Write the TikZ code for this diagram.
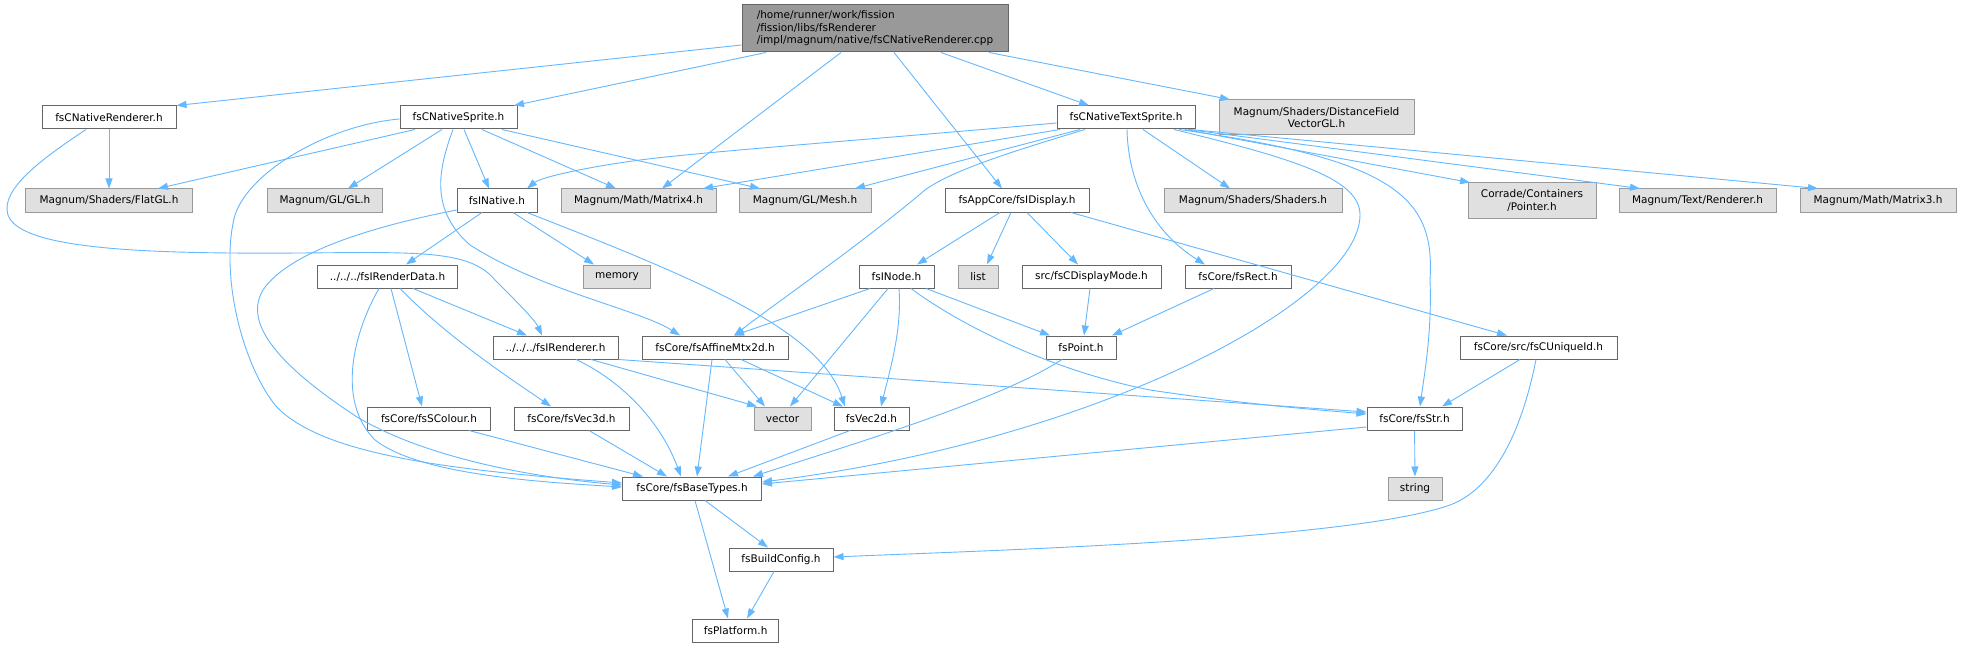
\documentclass[tikz,border=0pt]{standalone}
\usepackage{fontspec}
\setmainfont{DejaVu Sans}
\usetikzlibrary{arrows.meta}
\definecolor{edgeblue}{HTML}{63B8FF}
\definecolor{nodeborder}{HTML}{666666}
\definecolor{extfill}{HTML}{E0E0E0}
\definecolor{extborder}{HTML}{999999}
\definecolor{rootfill}{HTML}{999999}
\tikzset{
  base/.style={rectangle, inner sep=0pt, minimum height=23pt, line width=1pt,
    font=\fontsize{10.5pt}{12.5pt}\selectfont},
  fnode/.style={base, draw=nodeborder, fill=white},
  ext/.style={base, draw=extborder, fill=extfill},
  rootnode/.style={base, draw=nodeborder, fill=rootfill, minimum height=47pt, align=left},
  edge/.style={draw=edgeblue, line width=0.9pt, -{Triangle[length=10pt,width=7pt]}}
}
\begin{document}
\begin{tikzpicture}[x=1pt,y=-1pt]
\useasboundingbox[fill=white] (0,0) rectangle (1961,647);
% rank 0
\node[rootnode, minimum width=266pt] (root) at (875,28.5) {/home/runner/work/fission\\/fission/libs/fsRenderer\\/impl/magnum/native/fsCNativeRenderer.cpp};
% rank 1
\node[fnode, minimum width=134pt] (rend) at (109,117.5) {fsCNativeRenderer.h};
\node[fnode, minimum width=117pt] (sprite) at (458.5,117.5) {fsCNativeSprite.h};
\node[fnode, minimum width=138pt] (text) at (1126,117.5) {fsCNativeTextSprite.h};
\node[ext, minimum width=195pt, minimum height=35pt, align=center] (dfv) at (1316.5,117.5) {Magnum/Shaders/DistanceField\\VectorGL.h};
% rank 2
\node[ext, minimum width=167pt] (flat) at (109,200.5) {Magnum/Shaders/FlatGL.h};
\node[ext, minimum width=115pt] (gl) at (325,200.5) {Magnum/GL/GL.h};
\node[fnode, minimum width=80pt] (native) at (497,200.5) {fsINative.h};
\node[ext, minimum width=155pt] (mat4) at (638.5,200.5) {Magnum/Math/Matrix4.h};
\node[ext, minimum width=132pt] (mesh) at (805,200.5) {Magnum/GL/Mesh.h};
\node[fnode, minimum width=144pt] (disp) at (1017,200.5) {fsAppCore/fsIDisplay.h};
\node[ext, minimum width=178pt] (shaders) at (1253,200.5) {Magnum/Shaders/Shaders.h};
\node[ext, minimum width=128pt, minimum height=35pt, align=center] (pointer) at (1532,200.5) {Corrade/Containers\\/Pointer.h};
\node[ext, minimum width=157pt] (renderer) at (1697.5,200.5) {Magnum/Text/Renderer.h};
\node[ext, minimum width=156pt] (mat3) at (1878,200.5) {Magnum/Math/Matrix3.h};
% rank 3
\node[fnode, minimum width=140pt] (rdata) at (387.5,276.5) {../../../fsIRenderData.h};
\node[ext, minimum width=67pt] (memory) at (617,276.5) {memory};
\node[fnode, minimum width=75pt] (inode) at (896.5,276.5) {fsINode.h};
\node[ext, minimum width=40pt] (list) at (978,276.5) {list};
\node[fnode, minimum width=139pt] (dmode) at (1091.5,276.5) {src/fsCDisplayMode.h};
\node[fnode, minimum width=106pt] (rect) at (1238,276.5) {fsCore/fsRect.h};
% rank 4
\node[fnode, minimum width=125pt] (irend) at (555.5,347.5) {../../../fsIRenderer.h};
\node[fnode, minimum width=146pt] (affine) at (715,347.5) {fsCore/fsAffineMtx2d.h};
\node[fnode, minimum width=70pt] (point) at (1081,347.5) {fsPoint.h};
\node[fnode, minimum width=157pt] (uid) at (1538.5,347.5) {fsCore/src/fsCUniqueId.h};
% rank 5
\node[fnode, minimum width=123pt] (scol) at (429,418.5) {fsCore/fsSColour.h};
\node[fnode, minimum width=115pt] (vec3) at (571.5,418.5) {fsCore/fsVec3d.h};
\node[ext, minimum width=57pt] (vector) at (782.5,418.5) {vector};
\node[fnode, minimum width=75pt] (vec2) at (871.5,418.5) {fsVec2d.h};
\node[fnode, minimum width=95pt] (str) at (1414.5,418.5) {fsCore/fsStr.h};
% rank 6-8
\node[fnode, minimum width=139pt] (basetypes) at (692,488.5) {fsCore/fsBaseTypes.h};
\node[ext, minimum width=54pt] (string) at (1415,488.5) {string};
\node[fnode, minimum width=104pt] (bconf) at (781,559.5) {fsBuildConfig.h};
\node[fnode, minimum width=86pt] (plat) at (735.7,630.5) {fsPlatform.h};

% root edges
\draw[edge] (root.west |- 0,45) -- (rend.north east);
\draw[edge] (root.south -| 766,0) -- (sprite.north -| 514,0);
\draw[edge] (root.south -| 841,0) -- (mat4.north -| 662,0);
\draw[edge] (root.south -| 894,0) -- (disp.north -| 1002,0);
\draw[edge] (root.south -| 941,0) -- (text.north -| 1089,0);
\draw[edge] (root.south -| 989,0) -- (dfv.north -| 1230,0);
% rend
\draw[edge] (rend) -- (flat);
\draw[edge] (rend.south -| 86,0) .. controls (40,160) and (0,190) .. (8,215) .. controls (20,250) and (150,254) .. (300,253) .. controls (420,252) and (470,250) .. (495,280) .. controls (515,300) and (535,320) .. (irend.north -| 542,0);
% sprite
\draw[edge] (sprite.south -| 415,0) -- (flat.north -| 158,0);
\draw[edge] (sprite.south -| 442,0) -- (gl.north -| 348,0);
\draw[edge] (sprite.south -| 464,0) -- (native.north -| 489,0);
\draw[edge] (sprite.south -| 482,0) -- (mat4.north -| 616,0);
\draw[edge] (sprite.south -| 502,0) -- (mesh.north -| 760,0);
\draw[edge] (sprite.west |- 0,119) .. controls (330,125) and (250,170) .. (235,215) .. controls (220,270) and (240,360) .. (275,405) .. controls (320,455) and (450,470) .. (basetypes.west |- 0,483);
\draw[edge] (sprite.south -| 453,0) .. controls (438,170) and (430,210) .. (470,245) .. controls (540,290) and (640,310) .. (affine.north -| 680,0);
% text
\draw[edge] (text.west |- 0,123) .. controls (900,137) and (700,152) .. (640,160) .. controls (580,168) and (540,178) .. (native.north -| 527,0);
\draw[edge] (text.south -| 1060,0) -- (mat4.north -| 703,0);
\draw[edge] (text.south -| 1080,0) -- (mesh.north -| 855,0);
\draw[edge] (text.south -| 1085,0) .. controls (1000,155) and (950,172) .. (925,190) .. controls (860,245) and (780,300) .. (affine.north -| 734,0);
\draw[edge] (text.south -| 1127,0) .. controls (1128,180) and (1150,230) .. (rect.north -| 1205,0);
\draw[edge] (text.south -| 1143,0) -- (shaders.north -| 1230,0);
\draw[edge] (text.south -| 1174,0) .. controls (1300,160) and (1360,180) .. (1360,215) .. controls (1360,300) and (1100,440) .. (basetypes.east |- 0,482);
\draw[edge] (text.south -| 1179,0) .. controls (1400,160) and (1435,200) .. (1430,280) .. controls (1432,330) and (1425,370) .. (str.north -| 1420,0);
\draw[edge] (text.south -| 1185,0) -- (pointer.north -| 1470,0);
\draw[edge] (text.south -| 1188,0) -- (renderer.north -| 1640,0);
\draw[edge] (text.south -| 1190,0) -- (mat3.north -| 1818,0);
% native
\draw[edge] (native.south -| 482,0) -- (rdata.north -| 406,0);
\draw[edge] (native.south -| 513,0) -- (memory.north -| 594,0);
\draw[edge] (native.south -| 527,0) .. controls (700,280) and (820,330) .. (vec2.north -| 845,0);
\draw[edge] (native.west |- 0,210) .. controls (380,225) and (290,250) .. (263,290) .. controls (245,320) and (270,360) .. (357,417) .. controls (430,460) and (540,478) .. (basetypes.west |- 0,485);
% rdata
\draw[edge] (rdata.south -| 413,0) -- (irend.north -| 527,0);
\draw[edge] (rdata.south -| 391,0) -- (scol.north -| 422,0);
\draw[edge] (rdata.south -| 400,0) .. controls (450,340) and (520,385) .. (vec3.north -| 551,0);
\draw[edge] (rdata.south -| 379,0) .. controls (355,330) and (335,400) .. (375,440) .. controls (420,475) and (540,482) .. (basetypes.west |- 0,487);
% irend
\draw[edge] (irend.south -| 576,0) .. controls (620,380) and (660,420) .. (basetypes.north -| 681,0);
\draw[edge] (irend.south -| 591,0) -- (vector.north -| 757,0);
\draw[edge] (irend.south east) -- (str.west |- 0,412);
% affine
\draw[edge] (affine.south -| 712,0) -- (basetypes.north -| 697,0);
\draw[edge] (affine.south -| 725,0) -- (vector.north -| 765,0);
\draw[edge] (affine.south -| 741,0) -- (vec2.north -| 843,0);
% inode
\draw[edge] (inode.south -| 870,0) -- (affine.north -| 734,0);
\draw[edge] (inode.south -| 888,0) -- (vector.north -| 790,0);
\draw[edge] (inode.south -| 899,0) .. controls (902,330) and (890,370) .. (vec2.north -| 881,0);
\draw[edge] (inode.south -| 926,0) -- (point.north -| 1050,0);
\draw[edge] (inode.south -| 911,0) .. controls (960,325) and (1050,370) .. (1150,390) .. controls (1250,405) and (1320,410) .. (str.west |- 0,414);
% disp
\draw[edge] (disp.south -| 1000,0) -- (inode.north -| 917,0);
\draw[edge] (disp.south -| 1011,0) -- (list.north -| 987,0);
\draw[edge] (disp.south -| 1027,0) -- (dmode.north -| 1078,0);
\draw[edge] (disp.south -| 1071,0) -- (uid.north -| 1507,0);
% others
\draw[edge] (dmode.south -| 1090,0) -- (point.north -| 1084,0);
\draw[edge] (rect.south -| 1214,0) -- (point.north -| 1112,0);
\draw[edge] (point.south -| 1062,0) .. controls (1000,400) and (850,445) .. (basetypes.north -| 753,0);
\draw[edge] (scol.south -| 469,0) -- (basetypes.north -| 643,0);
\draw[edge] (vec3.south -| 589,0) -- (basetypes.north -| 667,0);
\draw[edge] (vec2.south -| 850,0) -- (basetypes.north -| 728,0);
\draw[edge] (str.west |- 0,427) -- (basetypes.east |- 0,484);
\draw[edge] (str) -- (string);
\draw[edge] (uid.south -| 1520,0) -- (str.north -| 1442,0);
\draw[edge] (uid.south -| 1536,0) .. controls (1520,440) and (1490,490) .. (1450,505) .. controls (1350,540) and (1000,550) .. (bconf.east |- 0,557);
\draw[edge] (basetypes.south -| 705,0) -- (bconf.north -| 768,0);
\draw[edge] (basetypes.south -| 695,0) -- (plat.north -| 728,0);
\draw[edge] (bconf.south -| 774,0) -- (plat.north -| 747,0);
\end{tikzpicture}
\end{document}
